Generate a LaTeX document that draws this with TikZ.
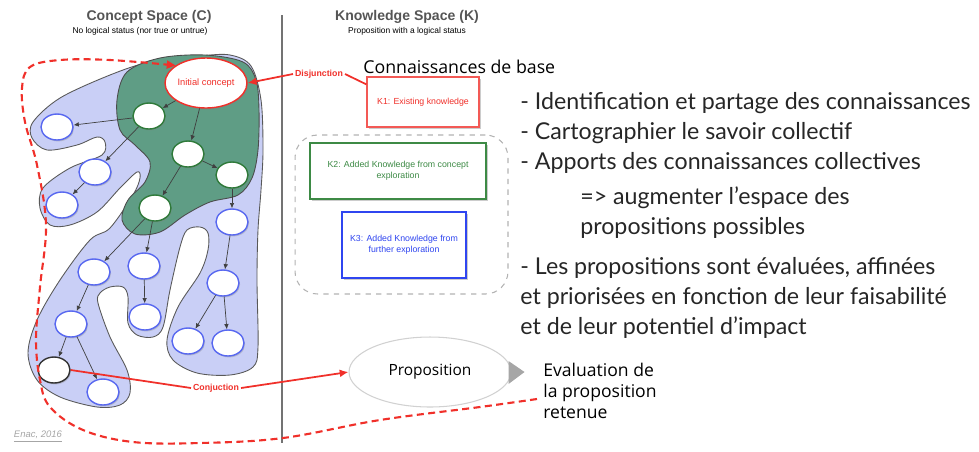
\documentclass[tikz,border=0pt]{standalone}
\usepackage{fontspec}
\setmainfont{Liberation Sans}
\newfontfamily\opensans{Open Sans}
\newfontfamily\latofont{Lato}
\usetikzlibrary{shapes.geometric,shadows,arrows.meta}
\definecolor{blueblob}{HTML}{C9CFF6}
\definecolor{greenblob}{HTML}{5F9D85}
\definecolor{conceptred}{HTML}{F0302A}
\definecolor{kgreen}{HTML}{3D8A45}
\definecolor{kblue}{HTML}{2F45F0}
\definecolor{nodeblue}{HTML}{5868F0}
\definecolor{nodegreen}{HTML}{2F7A3A}
\definecolor{titlegray}{HTML}{555555}

\tikzset{
  cnode/.style={ellipse,draw=nodeblue,fill=white,line width=0.8pt,minimum width=0.64cm,minimum height=0.52cm,inner sep=0pt,
    drop shadow={opacity=0.35,shadow xshift=0.6pt,shadow yshift=-0.8pt}},
  gnode/.style={cnode,draw=nodegreen},
  edge/.style={-{Latex[length=3pt,width=2.6pt]},draw=black!75,line width=0.4pt},
  kbox/.style={draw,fill=white,line width=0.7pt,inner sep=2pt,align=center,font=\fontsize{5}{6.5}\selectfont,
    drop shadow={opacity=0.4,shadow xshift=1pt,shadow yshift=-1.2pt}},
  redlink/.style={draw=conceptred,line width=1pt},
  redlabel/.style={text=conceptred,font=\bfseries\fontsize{5}{6}\selectfont,fill=white,inner sep=1pt},
}

\begin{document}
\begin{tikzpicture}[x=0.02cm,y=-0.02cm]
\useasboundingbox (0,0) rectangle (979,451);

% blobs
\draw[fill=blueblob,draw=black!65,line width=0.5pt] plot[smooth cycle,tension=0.55] coordinates {
  (200,56) (150,62) (110,75) (60,98) (33,122) (32,138) (47,150) (77,145) (97,137) (105,142) (102,155)
  (70,168) (43,188) (40,208) (50,225) (70,225) (97,212) (120,188) (137,172) (140,178) (133,195)
  (110,228) (90,240) (60,280) (37,320) (28,353) (37,380) (60,397) (97,407) (120,405) (130,393)
  (127,370) (110,337) (98,303) (100,293) (110,287) (123,287) (128,297) (128,323) (137,335) (153,337)
  (163,327) (170,290) (180,247) (187,230) (200,227) (208,233) (208,250) (200,273) (178,307) (167,340)
  (173,360) (197,373) (230,375) (253,367) (258,347) (257,280) (258,230) (261,190) (263,150) (261,100) (251,66) (230,55)};
\draw[fill=greenblob,draw=black!70,line width=0.5pt] plot[smooth cycle,tension=0.55] coordinates {
  (160,58) (205,55) (243,62) (256,80) (259,110) (258,150) (252,178) (238,195) (210,202) (185,215)
  (160,232) (135,234) (122,220) (128,200) (145,182) (150,162) (135,145) (120,130) (117,100) (127,72)};

% titles
\node[font=\bfseries\fontsize{8}{9}\selectfont,text=titlegray] (ctitle) at (149,17) {Concept Space (C)};
\node[font=\fontsize{4.8}{5.5}\selectfont] (csub) at (140,31) {No logical status (nor true or untrue)};
\node[font=\bfseries\fontsize{8}{9}\selectfont,text=titlegray] (ktitle) at (407,17) {Knowledge Space (K)};
\node[font=\fontsize{4.8}{5.5}\selectfont] (ksub) at (407,31) {Proposition with a logical status};
\draw[black!55,line width=0.8pt] (282,15) -- (282,443);

% concept tree
\node[ellipse,draw=conceptred,fill=white,line width=0.8pt,minimum width=1.64cm,minimum height=1cm,inner sep=0pt,
  text=conceptred,font=\fontsize{5.3}{6}\selectfont,drop shadow={opacity=0.35,shadow xshift=0.6pt,shadow yshift=-0.8pt}] (ic) at (206,83) {Initial concept};
\node[gnode] (n1) at (149,116) {};
\node[cnode] (n2) at (57,127) {};
\node[gnode] (n3) at (188,154) {};
\node[gnode] (n4) at (232,175) {};
\node[cnode] (n5) at (95,172) {};
\node[cnode] (n6) at (62,205) {};
\node[gnode] (n7) at (155,208) {};
\node[cnode] (n8) at (232,222) {};
\node[cnode] (n9) at (94,272) {};
\node[cnode] (n10) at (144,266) {};
\node[cnode] (n11) at (145,317) {};
\node[cnode] (n12) at (223,283) {};
\node[cnode] (n13) at (71,324) {};
\node[cnode] (n14) at (188,341) {};
\node[cnode] (n15) at (228,343) {};
\node[cnode,draw=black!80] (n16) at (54,370) {};
\node[cnode] (n17) at (103,392) {};
\foreach \a/\b in {ic/n1,ic/n3,n1/n2,n1/n5,n5/n6,n3/n4,n3/n7,n4/n8,n7/n9,n7/n10,n10/n11,
  n8/n12,n12/n14,n12/n15,n9/n13,n13/n16,n13/n17}
  \draw[edge] (\a) -- (\b);

% knowledge space
\node[kbox,draw=conceptred!80,text=conceptred,minimum width=2.24cm,minimum height=1cm] (k1) at (423,102) {K1: Existing knowledge};
\node[draw=black!30,dashed,line width=0.6pt,rounded corners=0.45cm,minimum width=4.26cm,minimum height=3.18cm] (kzone) at (401.5,214.5) {};
\node[kbox,draw=kgreen,text=kgreen,minimum width=3.52cm,minimum height=1.12cm] (k2) at (398,171) {K2: Added Knowledge from concept\\exploration};
\node[kbox,draw=kblue,text=kblue,minimum width=2.48cm,minimum height=1.32cm] (k3) at (404,245) {K3: Added Knowledge from\\further exploration};
\node[anchor=west,inner sep=0pt,font=\opensans\fontsize{10.1}{12}\selectfont] (kbase) at (363,67) {Connaissances de base};

% proposition
\node[ellipse,draw=black!18,fill=white,line width=0.6pt,minimum width=3.24cm,minimum height=1.4cm,
  font=\opensans\fontsize{8.8}{10}\selectfont] (prop) at (430,372) {Proposition};
\fill[black!35] ([shift={(-3,-11)}]prop.east) -- ([shift={(13,0)}]prop.east) -- ([shift={(-3,12)}]prop.east) -- cycle;
\node[anchor=west,align=left,inner sep=0pt,font=\opensans\fontsize{10}{12}\selectfont] (eval) at (543,391) {Evaluation de\\la proposition\\retenue};

% links
\node[redlabel] (dj) at (319,74) {Disjunction};
\node[redlabel] (cj) at (216,388) {Conjuction};
\draw[redlink] ([shift={(0,8)}]k1.north west) -- (dj.east);
\draw[redlink,-{Latex[length=5pt,width=4.5pt]}] (dj.west) -- (ic.east);
\draw[redlink] (n16.east) -- (cj.west);
\draw[redlink,-{Latex[length=5pt,width=4.5pt]}] (cj.east) -- (prop.west);
\draw[conceptred,line width=1.2pt,dash pattern=on 4pt off 2.5pt,-{Triangle[length=5pt,width=4.5pt]}]
  plot[smooth,tension=0.6] coordinates {(537,399) (480,407) (380,420) (283,438) (200,443) (133,442) (83,430)
  (50,407) (40,380) (36,340) (40,287) (46,225) (37,165) (25,122) (22,88) (30,67) (60,60) (110,60) (ic.150)};

% right text
\node[anchor=base west,align=left,inner sep=0pt,text=black!85,font=\latofont\fontsize{13.2}{17.07}\selectfont] (points) at (520,334) {%
- Identification et partage des connaissances\\
- Cartographier le savoir collectif\\
- Apports des connaissances collectives\\[2.85pt]
\hspace*{1.2cm}=> augmenter l’espace des\\
\hspace*{1.2cm}propositions possibles\\[5.7pt]
- Les propositions sont évaluées, affinées\\
et priorisées en fonction de leur faisabilité\\
et de leur potentiel d’impact};

\node[text=black!35,font=\itshape\fontsize{5.4}{6}\selectfont] (credit) at (38,437) {\underline{Enac, 2016}};
\end{tikzpicture}
\end{document}
